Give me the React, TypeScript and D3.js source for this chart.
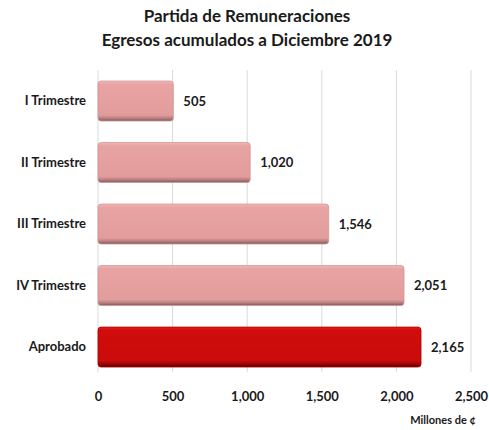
import React, { useEffect, useRef } from "react";
import * as d3 from "d3";

const categories = ["I Trimestre", "II Trimestre", "III Trimestre", "IV Trimestre", "Aprobado"];
const values = [505, 1020, 1546, 2051, 2165];
const xTicks = [0, 500, 1000, 1500, 2000, 2500];
const titleLines = ["Partida  de Remuneraciones", "Egresos acumulados a Diciembre 2019"];

export default function App() {
  const svgRef = useRef<SVGSVGElement>(null);

  useEffect(() => {
    const svg = d3.select(svgRef.current);
    svg.selectAll("*").remove();

    const font = "Lato, 'Open Sans', sans-serif";
    const margin = { top: 70, right: 18, bottom: 58, left: 98 };
    const width = 489;
    const height = 430;
    const innerWidth = width - margin.left - margin.right;
    const innerHeight = height - margin.top - margin.bottom;

    const x = d3.scaleLinear().domain([0, 2500]).range([0, innerWidth]);
    const y = d3.scaleBand().domain(categories).range([0, innerHeight])
      .paddingInner(0.35).paddingOuter(0.13).align(0.69);

    const defs = svg.append("defs");
    const mkGrad = (id: string, stops: [number, string][]) => {
      const g = defs.append("linearGradient").attr("id", id).attr("x1", 0).attr("y1", 0).attr("x2", 0).attr("y2", 1);
      stops.forEach(([o, c]) => g.append("stop").attr("offset", o).attr("stop-color", c));
    };
    mkGrad("pink", [[0, "#f3b9b9"], [0.08, "#e8a3a3"], [0.85, "#e39c9c"], [0.93, "#b98080"], [1, "#7a5a5a"]]);
    mkGrad("red", [[0, "#ea1a1a"], [0.08, "#d10c0c"], [0.85, "#c90b0b"], [0.93, "#960404"], [1, "#5a0000"]]);

    // title
    svg.append("g").selectAll("text").data(titleLines).enter().append("text")
      .attr("x", 247).attr("y", (d, i) => 22 + i * 24)
      .attr("text-anchor", "middle")
      .attr("font-family", font).attr("font-weight", "bold").attr("font-size", 17)
      .attr("fill", "#1a1a1a")
      .text((d) => d);

    const g = svg.append("g").attr("transform", `translate(${margin.left},${margin.top})`);

    // gridlines
    g.append("g").selectAll("line").data(xTicks).enter().append("line")
      .attr("x1", (d) => x(d)).attr("x2", (d) => x(d))
      .attr("y1", 0).attr("y2", innerHeight)
      .attr("stroke", "#d9d9d9").attr("stroke-width", 1);

    // bars
    g.append("g").selectAll("rect").data(values).enter().append("rect")
      .attr("x", 0)
      .attr("y", (d, i) => y(categories[i])!)
      .attr("width", (d) => x(d))
      .attr("height", y.bandwidth())
      .attr("rx", 3)
      .attr("fill", (d, i) => (i === values.length - 1 ? "url(#red)" : "url(#pink)"))
      .attr("stroke", (d, i) => (i === values.length - 1 ? "#b00000" : "#d49494"))
      .attr("stroke-width", 0.8);

    // value labels
    g.append("g").selectAll("text").data(values).enter().append("text")
      .attr("x", (d) => x(d) + 10)
      .attr("y", (d, i) => y(categories[i])! + y.bandwidth() / 2)
      .attr("dy", "0.35em")
      .attr("font-family", font).attr("font-weight", "bold").attr("font-size", 13)
      .attr("fill", "#1a1a1a")
      .text((d) => d3.format(",")(d));

    // category axis
    const yAxis = g.append("g").call(d3.axisLeft(y).tickSize(0).tickPadding(12));
    yAxis.select(".domain").remove();
    yAxis.selectAll("text")
      .attr("font-family", font).attr("font-weight", "bold").attr("font-size", 13).attr("fill", "#1a1a1a");

    // value axis
    const xAxis = g.append("g").attr("transform", `translate(0,${innerHeight})`)
      .call(d3.axisBottom(x).tickValues(xTicks).tickFormat(d3.format(",")).tickSize(0).tickPadding(20));
    xAxis.select(".domain").remove();
    xAxis.selectAll("text")
      .attr("font-family", font).attr("font-weight", "bold").attr("font-size", 13).attr("fill", "#1a1a1a");

    svg.append("text")
      .attr("x", 443).attr("y", 424)
      .attr("text-anchor", "middle")
      .attr("font-family", font).attr("font-weight", "bold").attr("font-size", 11)
      .attr("fill", "#1a1a1a")
      .text("Millones de ¢");
  }, []);

  return (
    <div style={{ position: "absolute", left: 0, top: 0 }}>
      <svg ref={svgRef} width={489} height={430} style={{ display: "block", background: "#fff" }} />
    </div>
  );
}
